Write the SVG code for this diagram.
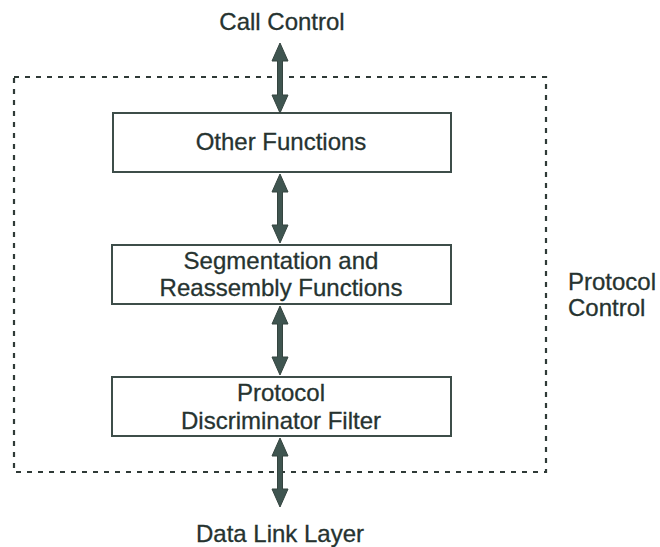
<svg xmlns="http://www.w3.org/2000/svg" width="660" height="547" viewBox="0 0 660 547">
<style>
text{font-family:"Liberation Sans",Arial,sans-serif;font-size:24px;fill:#263330;stroke:#263330;stroke-width:0.3;text-anchor:middle}
.box{fill:#fff;stroke:#3d4d49;stroke-width:2}
.dash{fill:none;stroke:#2f3a37;stroke-width:2.2;stroke-dasharray:5 6}
.arrow{fill:#3f5550;stroke:#34443f;stroke-width:1}
</style>
<rect width="660" height="547" fill="#fff"/>
<g id="protocol-control">
<rect class="dash" x="14" y="77" width="532" height="395"/>
<text x="568" y="290" style="text-anchor:start">Protocol</text>
<text x="568" y="316" style="text-anchor:start">Control</text>
</g>
<g id="call-control"><text x="282" y="30">Call Control</text></g>
<g id="other-functions">
<rect class="box" x="113" y="113" width="338" height="59"/>
<text x="281" y="150">Other Functions</text>
</g>
<g id="segmentation">
<rect class="box" x="112" y="245" width="339" height="59"/>
<text x="281" y="269">Segmentation and</text>
<text x="281" y="296">Reassembly  Functions</text>
</g>
<g id="discriminator">
<rect class="box" x="112" y="377" width="339" height="59"/>
<text x="281" y="401">Protocol</text>
<text x="281" y="429">Discriminator Filter</text>
</g>
<g id="data-link"><text x="280" y="542">Data Link Layer</text></g>
<g id="connectors">
<path class="arrow" d="M280 43L288 61H282.5V95H288L280 113L272 95H277.5V61H272Z"/>
<path class="arrow" d="M280 174L288 192H282.5V225H288L280 243L272 225H277.5V192H272Z"/>
<path class="arrow" d="M280 306L288 324H282.5V357H288L280 375L272 357H277.5V324H272Z"/>
<path class="arrow" d="M280 438L288 456H282.5V489H288L280 507L272 489H277.5V456H272Z"/>
</g>
</svg>
